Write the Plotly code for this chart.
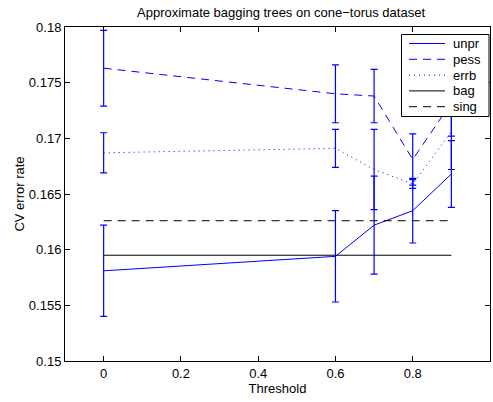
import plotly.graph_objects as go

thresholds = [0, 0.6, 0.7, 0.8, 0.9]
unpr = [0.1581, 0.1594, 0.1622, 0.1635, 0.1668]
unpr_err = [0.0041, 0.0041, 0.0044, 0.0029, 0.0030]
pess = [0.1763, 0.1740, 0.1738, 0.1681, 0.1732]
pess_err = [0.0034, 0.0026, 0.0024, 0.0023, 0.0030]
errb = [0.1687, 0.1691, 0.1672, 0.1659, 0.1706]
errb_err = [0.0018, 0.0017, 0.0036, 0.0004, 0.0034]
bag_level = 0.1595
sing_level = 0.1626

series_names = ["unpr", "pess", "errb", "bag", "sing"]

x_ticks = [0, 0.2, 0.4, 0.6, 0.8, 1]
x_ticktext = ["0", "0.2", "0.4", "0.6", "0.8", "1"]
y_ticks = [0.15, 0.155, 0.16, 0.165, 0.17, 0.175, 0.18]
y_ticktext = ["0.15", "0.155", "0.16", "0.165", "0.17", "0.175", "0.18"]

BLUE = "rgb(0,0,255)"
FONT = "Liberation Sans, Arial, Helvetica, sans-serif"
DASH = "8px,6px"
DOT = "1px,4px"
styles = [
    dict(color=BLUE, width=1),
    dict(color=BLUE, width=1, dash=DASH),
    dict(color=BLUE, width=1, dash=DOT),
    dict(color="black", width=1),
    dict(color="black", width=1, dash=DASH),
]

W, H = 493, 402
ML, MR, MT, MB = 65, 3, 27, 41
PW, PH = W - ML - MR, H - MT - MB


def eb(err):
    return dict(type="data", array=err, visible=True, color=BLUE, thickness=1.2, width=3.5)


fig = go.Figure()
fig.add_trace(go.Scatter(x=thresholds, y=unpr, name=series_names[0], mode="lines",
                         line=styles[0], error_y=eb(unpr_err)))
fig.add_trace(go.Scatter(x=thresholds, y=pess, name=series_names[1], mode="lines",
                         line=styles[1], error_y=eb(pess_err)))
fig.add_trace(go.Scatter(x=thresholds, y=errb, name=series_names[2], mode="lines",
                         line=styles[2], error_y=eb(errb_err)))
fig.add_trace(go.Scatter(x=[thresholds[0], thresholds[-1]], y=[bag_level, bag_level],
                         name=series_names[3], mode="lines", line=styles[3]))
fig.add_trace(go.Scatter(x=[thresholds[0], thresholds[-1]], y=[sing_level, sing_level],
                         name=series_names[4], mode="lines", line=styles[4]))

# MATLAB-style legend box (layout decoration), pixel placement converted to paper coords
def px(xp):
    return (xp - ML) / PW


def py(yp):
    return (H - MB - yp) / PH


shapes = [dict(type="rect", xref="paper", yref="paper", layer="above",
               x0=px(401.5), x1=px(489), y0=py(116.5), y1=py(34.5),
               line=dict(color="black", width=1), fillcolor="white")]
annotations = []
for i, (nm, st) in enumerate(zip(series_names, styles)):
    yy = 43.5 + i * 15.8
    shapes.append(dict(type="line", xref="paper", yref="paper", layer="above",
                       x0=px(409), x1=px(445), y0=py(yy), y1=py(yy),
                       line=st))
    annotations.append(dict(text=nm, xref="paper", yref="paper", x=px(450.5), y=py(yy),
                            xanchor="left", yanchor="middle", showarrow=False,
                            font=dict(family=FONT, size=13, color="black")))

axis_common = dict(
    showline=True, linecolor="black", linewidth=1, mirror="ticks",
    ticks="inside", ticklen=5, tickcolor="black", tickwidth=1,
    showgrid=False, zeroline=False,
    tickfont=dict(family=FONT, size=13, color="black"),
)

fig.update_layout(
    width=W, height=H,
    margin=dict(l=ML, r=MR, t=MT, b=MB),
    paper_bgcolor="white", plot_bgcolor="white",
    font=dict(family=FONT, size=13, color="black"),
    title=dict(text="Approximate bagging trees on cone\u2212torus dataset",
               x=281 / W, xanchor="center",
               y=1 - 12 / H, yanchor="middle", yref="container",
               font=dict(family=FONT, size=13, color="black")),
    xaxis=dict(range=[-0.1, 1.0], tickvals=x_ticks, ticktext=x_ticktext,
               title=dict(text="Threshold", standoff=2,
                          font=dict(family=FONT, size=13, color="black")),
               **axis_common),
    yaxis=dict(range=[0.15, 0.18], tickvals=y_ticks, ticktext=y_ticktext,
               title=dict(text="CV error rate", standoff=1,
                          font=dict(family=FONT, size=13, color="black")),
               **axis_common),
    showlegend=False,
    shapes=shapes,
    annotations=annotations,
)

fig.write_html("out.html")
